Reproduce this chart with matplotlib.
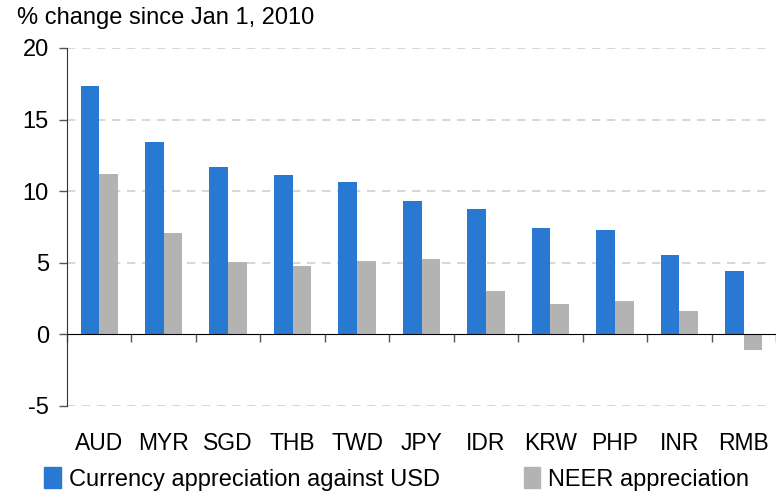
import matplotlib
matplotlib.use("Agg")
import matplotlib.pyplot as plt
import matplotlib.patches as mpatches
import numpy as np
from matplotlib.transforms import blended_transform_factory

plt.rcParams["font.family"] = ["Liberation Sans", "DejaVu Sans"]

# Data
currencies = ["AUD", "MYR", "SGD", "THB", "TWD", "JPY", "IDR", "KRW", "PHP", "INR", "RMB"]
vs_usd = [17.35, 13.45, 11.7, 11.15, 10.65, 9.3, 8.75, 7.45, 7.3, 5.55, 4.45]
neer = [11.2, 7.1, 5.05, 4.8, 5.15, 5.3, 3.0, 2.15, 2.35, 1.65, -1.1]
yticks = [-5, 0, 5, 10, 15, 20]

blue = "#2979D2"
grey = "#B3B3B3"

W, H = 776, 493
fig = plt.figure(figsize=(W / 100, H / 100), dpi=100)
ax = fig.add_axes([67 / W, 1 - 406 / H, (W - 67) / W, (406 - 48) / H])

x = np.arange(len(currencies))
bw = 0.29
ax.bar(x - bw / 2, vs_usd, bw, color=blue, zorder=3)
ax.bar(x + bw / 2, neer, bw, color=grey, zorder=3)

ax.set_xlim(-0.5, len(currencies) - 0.5)
ax.set_ylim(-5, 20)
ax.set_yticks(yticks)
ax.set_yticklabels([str(v) for v in yticks], fontsize=17)

# dashed grid (not at zero, the axis sits there)
for v in yticks:
    if v != 0:
        ax.axhline(v, xmax=0.987, color="#D0D0D0", lw=1.2, ls=(0, (5, 4)), zorder=1)

for s in ["top", "right"]:
    ax.spines[s].set_visible(False)
ax.spines["bottom"].set_position(("data", 0))
ax.spines["bottom"].set_zorder(4)
ax.spines["left"].set_color("#333333")

# category boundary ticks on the zero line
ax.set_xticks(np.arange(len(currencies) + 1) - 0.5)
ax.set_xticklabels([])
ax.tick_params(axis="x", direction="out", length=6, color="#555555", width=1)
ax.tick_params(axis="y", direction="out", length=6, color="#555555", width=1, pad=7)

# category labels along the bottom
tr = blended_transform_factory(ax.transData, fig.transFigure)
for i, c in enumerate(currencies):
    ax.text(i, 1 - 443 / H, c, transform=tr, ha="center", va="center", fontsize=16.5)

fig.text(17 / W, 1 - 18 / H, "% change since Jan 1, 2010", fontsize=17, va="center")

h1 = mpatches.Patch(color=blue, label="Currency appreciation against USD")
h2 = mpatches.Patch(color=grey, label="NEER appreciation")
fig.legend(handles=[h1, h2], ncol=2, frameon=False, fontsize=17,
           loc="center left", bbox_to_anchor=(44 / W, 1 - 479 / H),
           handlelength=0.7, handleheight=1.0, handletextpad=0.35,
           columnspacing=3.55, borderaxespad=0, borderpad=0)

fig.savefig("out.png", dpi=100)
